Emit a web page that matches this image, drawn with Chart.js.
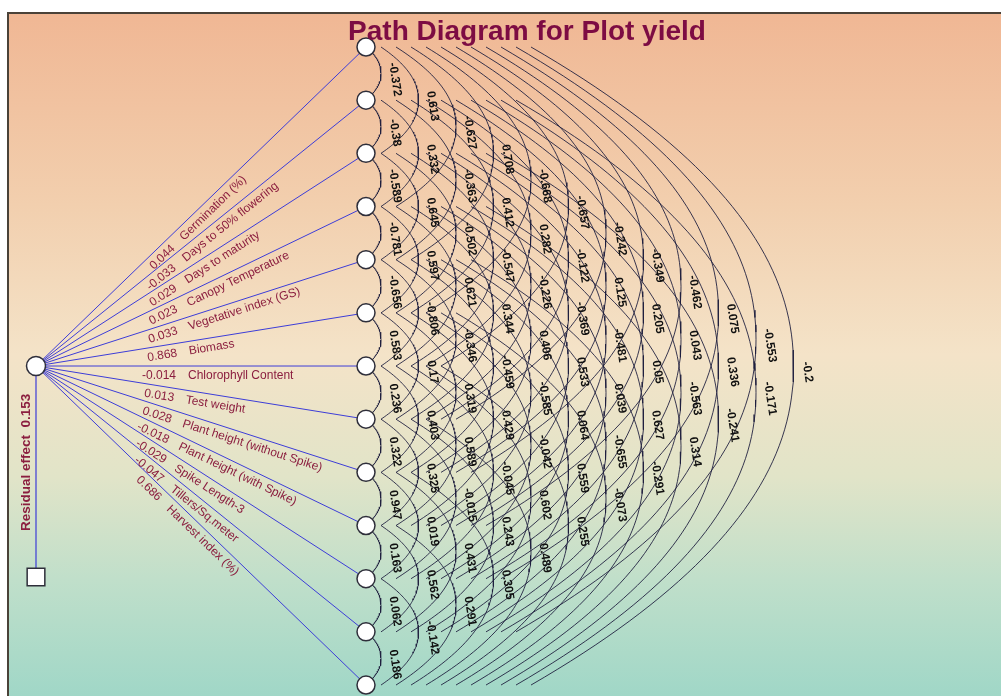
<!DOCTYPE html>
<html><head><meta charset="utf-8">
<script src="https://cdn.jsdelivr.net/npm/chart.js@4/dist/chart.umd.min.js"></script>
<style>html,body{margin:0;padding:0;background:#fff;}#wrap{width:1001px;height:696px;}</style>
</head><body><div id="wrap"><canvas id="c" width="1001" height="696"></canvas></div>
<script>
// ---------- data ----------
const titleText = "Path Diagram for Plot yield";
const traits = ["Germination (%)","Days to 50% flowering","Days to maturity","Canopy Temperature","Vegetative index (GS)","Biomass","Chlorophyll Content","Test weight","Plant height (without Spike)","Plant height (with Spike)","Spike Length-3","Tillers/Sq.meter","Harvest index (%)"];
const directEffects = [0.044,-0.033,0.029,0.023,0.033,0.868,-0.014,0.013,0.028,-0.018,-0.029,-0.047,0.686];
const residualEffect = 0.153;
// correlations between trait i and trait i+k (k = span)
const corrSpan1 = [-0.372,-0.38,-0.589,-0.781,-0.656,0.583,0.236,0.322,0.947,0.163,0.062,0.186];
const corrSpan2 = [0.613,0.332,0.645,0.597,-0.806,0.17,0.403,0.325,0.019,0.562,-0.142];
const corrSpan3 = [-0.627,-0.363,-0.502,0.621,-0.346,0.319,0.589,-0.015,0.431,0.291];
const corrSpan4 = [0.708,0.412,-0.547,0.344,-0.459,0.429,-0.045,0.243,0.305];
const corrSpan5 = [-0.668,0.282,-0.226,0.406,-0.585,-0.042,0.602,0.489];
const corrSpan6 = [-0.657,-0.122,-0.369,0.533,0.064,0.559,0.255];
const corrSpan7 = [-0.242,0.125,-0.481,0.039,-0.655,-0.073];
const corrSpan8 = [-0.349,0.205,0.05,0.627,-0.291];
const corrSpan9 = [-0.462,0.043,-0.563,0.314];
const corrSpan10 = [0.075,0.336,-0.241];
const corrSpan11 = [-0.553,-0.171];
const corrSpan12 = [-0.2];
const corrBySpan = [corrSpan1,corrSpan2,corrSpan3,corrSpan4,corrSpan5,corrSpan6,corrSpan7,corrSpan8,corrSpan9,corrSpan10,corrSpan11,corrSpan12];

// ---------- layout (in scale units) ----------
const W = 1001, H = 696;
const NODE_X = 366, NODE_Y0 = 47, NODE_DY = 53.17;
const SRC = {x: 36, y: 366};
const RES = {x: 36, y: 577};
const COL_X0 = 395, COL_DX = 37.5, APEX_GAP = 14, ARC_START_STEP = 15, ARC_POW = 2.1;
const nodeY = i => NODE_Y0 + i * NODE_DY;
const colX = k => COL_X0 + (k - 1) * COL_DX;

function arcPoints(i, k) {
  const yA = nodeY(i), yB = nodeY(i + k), ym = (yA + yB) / 2, h = (yB - yA) / 2;
  const x0 = NODE_X + ARC_START_STEP * (k - 1);
  const xa = colX(k) - APEX_GAP;
  const pts = [];
  const N = 80;
  for (let s = 0; s <= N; s++) {
    const t = -1 + 2 * s / N;
    pts.push({x: x0 + (xa - x0) * (1 - Math.pow(Math.abs(t), ARC_POW)), y: ym + h * t});
  }
  return pts;
}

const datasets = [];
corrBySpan.forEach((arr, ki) => {
  arr.forEach((v, i) => {
    datasets.push({data: arcPoints(i, ki + 1), showLine: true, borderColor: 'rgba(30,30,62,0.88)', borderWidth: 1, pointRadius: 0, tension: 0, fill: false, order: 10});
  });
});
traits.forEach((t, i) => {
  datasets.push({data: [{x: SRC.x, y: SRC.y}, {x: NODE_X, y: nodeY(i)}], showLine: true, borderColor: '#3d3dd8', borderWidth: 1, pointRadius: 0, order: 8});
});
datasets.push({data: [{x: SRC.x, y: SRC.y}, {x: RES.x, y: RES.y}], showLine: true, borderColor: '#3d3dd8', borderWidth: 1.2, pointRadius: 0, order: 8});
datasets.push({data: traits.map((t, i) => ({x: NODE_X, y: nodeY(i)})), pointStyle: 'circle', pointRadius: 9, backgroundColor: '#ffffff', borderColor: '#2e2e3a', borderWidth: 1.5, order: 1});
datasets.push({data: [{x: SRC.x, y: SRC.y}], pointStyle: 'circle', pointRadius: 9.5, backgroundColor: '#ffffff', borderColor: '#2e2e3a', borderWidth: 1.5, order: 1});
datasets.push({data: [{x: RES.x, y: RES.y}], pointStyle: 'rect', pointRadius: 12.5, backgroundColor: '#ffffff', borderColor: '#2e2e3a', borderWidth: 1.5, order: 1});

const bgPlugin = {
  id: 'bg',
  beforeDraw(chart) {
    const {ctx, scales: {x, y}} = chart;
    ctx.save();
    ctx.fillStyle = '#ffffff';
    ctx.fillRect(0, 0, chart.width, chart.height);
    const x0 = x.getPixelForValue(8), y0 = y.getPixelForValue(13);
    const x1 = x.getPixelForValue(W), y1 = y.getPixelForValue(H);
    const g = ctx.createLinearGradient(0, y0, 0, y1);
    g.addColorStop(0, '#f0b794');
    g.addColorStop(0.28, '#f2cfae');
    g.addColorStop(0.5, '#f4e3c8');
    g.addColorStop(0.68, '#e1e4c8');
    g.addColorStop(0.83, '#c0dfca');
    g.addColorStop(1, '#a0d7c7');
    ctx.fillStyle = g;
    ctx.fillRect(x0, y0, x1 - x0, y1 - y0);
    ctx.strokeStyle = '#4a4238';
    ctx.lineWidth = 2;
    ctx.beginPath();
    ctx.moveTo(x0, y1); ctx.lineTo(x0, y0); ctx.lineTo(x1, y0);
    ctx.stroke();
    ctx.restore();
  }
};

const textPlugin = {
  id: 'texts',
  afterDatasetsDraw(chart) {
    const {ctx, scales: {x, y}} = chart;
    const px = v => x.getPixelForValue(v), py = v => y.getPixelForValue(v);
    ctx.save();
    ctx.fillStyle = '#111111';
    ctx.font = 'bold 12px "Liberation Sans", Arial, sans-serif';
    ctx.textAlign = 'center';
    ctx.textBaseline = 'middle';
    corrBySpan.forEach((arr, ki) => {
      const k = ki + 1;
      arr.forEach((v, i) => {
        const yv = (nodeY(i) + nodeY(i + k)) / 2 + 6;
        ctx.save();
        ctx.translate(px(colX(k)), py(yv));
        ctx.rotate(81 * Math.PI / 180);
        ctx.fillText(String(v), 0, 0);
        ctx.restore();
      });
    });
    ctx.fillStyle = '#8b1e3f';
    ctx.font = '12px "Liberation Sans", Arial, sans-serif';
    ctx.textBaseline = 'alphabetic';
    traits.forEach((t, i) => {
      const sx = px(SRC.x), sy = py(SRC.y), ex = px(NODE_X), ey = py(nodeY(i));
      const len = Math.hypot(ex - sx, ey - sy);
      const ux = (ex - sx) / len, uy = (ey - sy) / len;
      const s = 106 / ux;
      const ax = sx + ux * s - uy * 13, ay = sy + uy * s + ux * 13;
      ctx.save();
      ctx.translate(ax, ay);
      ctx.rotate(Math.atan2(uy, ux));
      ctx.textAlign = 'right';
      ctx.fillText(String(directEffects[i]), 34, 0);
      ctx.textAlign = 'left';
      ctx.fillText(t, 46, 0);
      ctx.restore();
    });
    ctx.font = 'bold 13.5px "Liberation Sans", Arial, sans-serif';
    ctx.save();
    ctx.translate(px(30), py(531));
    ctx.rotate(-Math.PI / 2);
    ctx.textAlign = 'left';
    ctx.fillText('Residual effect  ' + residualEffect, 0, 0);
    ctx.restore();
    ctx.fillStyle = '#7d0c43';
    ctx.font = 'bold 28px "Liberation Sans", Arial, sans-serif';
    ctx.textAlign = 'center';
    ctx.fillText(titleText, px(527), py(40));
    ctx.restore();
  }
};

new Chart(document.getElementById('c'), {
  type: 'scatter',
  data: {datasets},
  options: {
    responsive: false,
    animation: false,
    devicePixelRatio: 1,
    layout: {padding: 0, autoPadding: false},
    scales: {
      x: {type: 'linear', min: 0, max: W, display: false},
      y: {type: 'linear', min: 0, max: H, reverse: true, display: false}
    },
    plugins: {legend: {display: false}, tooltip: {enabled: false}, title: {display: false}},
    events: []
  },
  plugins: [bgPlugin, textPlugin]
});
</script>
</body></html>
